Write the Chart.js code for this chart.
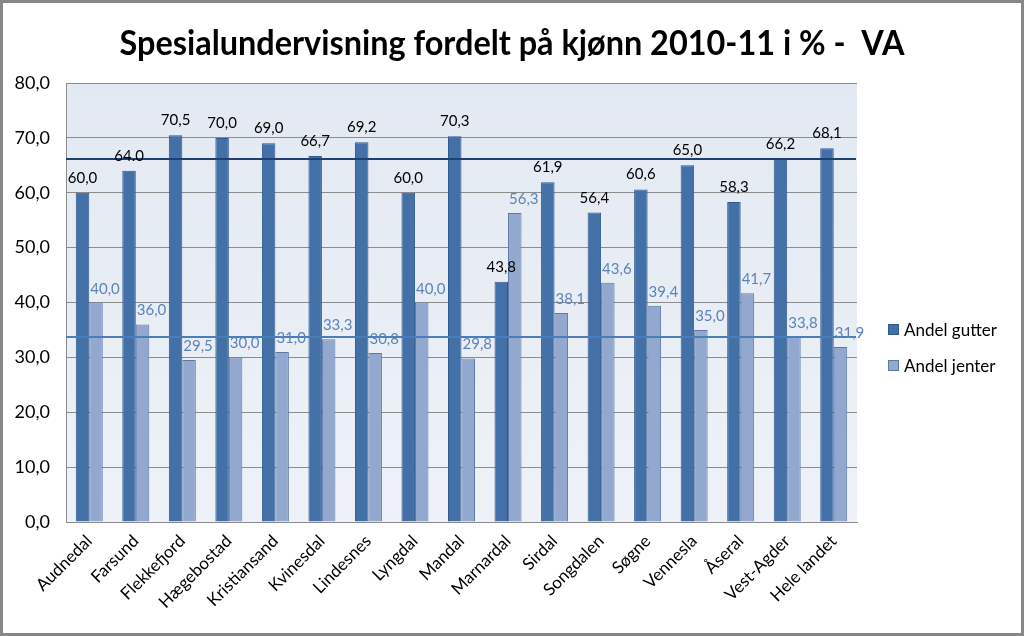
<!DOCTYPE html>
<html>
<head>
<meta charset="utf-8">
<script src="https://cdn.jsdelivr.net/npm/chart.js@4.4.1/dist/chart.umd.min.js"></script>
<style>
html, body { margin: 0; padding: 0; background: #fff; }
#wrap { width: 1024px; height: 636px; position: relative; }
</style>
</head>
<body>
<div id="wrap"><canvas id="graf" width="1024" height="636"></canvas></div>
<script>
// data lest av fra figuren
const kommuner = ["Audnedal", "Farsund", "Flekkefjord", "Hægebostad", "Kristiansand", "Kvinesdal",
  "Lindesnes", "Lyngdal", "Mandal", "Marnardal", "Sirdal", "Songdalen", "Søgne", "Vennesla",
  "Åseral", "Vest-Agder", "Hele landet"];
const andelGutter = [60.0, 64.0, 70.5, 70.0, 69.0, 66.7, 69.2, 60.0, 70.3, 43.8, 61.9, 56.4, 60.6, 65.0, 58.3, 66.2, 68.1];
const andelJenter = [40.0, 36.0, 29.5, 30.0, 31.0, 33.3, 30.8, 40.0, 29.8, 56.3, 38.1, 43.6, 39.4, 35.0, 41.7, 33.8, 31.9];
const gutterTekst = ["60,0", "64.0", "70,5", "70,0", "69,0", "66,7", "69,2", "60,0", "70,3", "43,8", "61,9", "56,4", "60,6", "65,0", "58,3", "66,2", "68,1"];
const jenterTekst = ["40,0", "36,0", "29,5", "30,0", "31,0", "33,3", "30,8", "40,0", "29,8", "56,3", "38,1", "43,6", "39,4", "35,0", "41,7", "33,8", "31,9"];
const snittGutter = 66.2;   // Vest-Agder gutter
const snittJenter = 33.8;   // Vest-Agder jenter
const tittel = "Spesialundervisning fordelt på kjønn 2010-11 i % -  VA";
const serieNavn = ["Andel gutter", "Andel jenter"];

const farger = {
  gutter: '#4470a8', gutterKant: '#30598e',
  jenter: '#93a8cf', jenterKant: '#5d78a6',
  gutterTekst: '#000000', jenterTekst: '#5b84bd'
};

let ctx = document.getElementById('graf').getContext('2d');

const bakgrunn = {
  id: 'bakgrunn',
  beforeDraw(chart) {
    let a = chart.chartArea, c = chart.ctx;
    c.save();
    c.fillStyle = '#ffffff';
    c.fillRect(0, 0, chart.width, chart.height);
    let g = c.createLinearGradient(0, a.top, 0, a.bottom);
    g.addColorStop(0, '#e3e9f2');
    g.addColorStop(1, '#eef2f8');
    c.fillStyle = g;
    c.fillRect(a.left, a.top, a.right - a.left, a.bottom - a.top);
    c.restore();
  }
};

const ekstra = {
  id: 'ekstra',
  afterDatasetsDraw(chart) {
    let c = chart.ctx, a = chart.chartArea, y = chart.scales.y;
    c.save();
    // snittlinjer
    [[snittGutter, '#1f3f73'], [snittJenter, '#4a7ebb']].forEach(([v, col]) => {
      let py = Math.round(y.getPixelForValue(v));
      c.strokeStyle = col;
      c.lineWidth = 2;
      c.beginPath();
      c.moveTo(a.left, py);
      c.lineTo(a.right - 1, py);
      c.stroke();
    });
    // verdietiketter
    c.font = '15px Lato';
    c.textAlign = 'center';
    c.textBaseline = 'alphabetic';
    chart.getDatasetMeta(0).data.forEach((bar, i) => {
      c.fillStyle = farger.gutterTekst;
      c.fillText(gutterTekst[i], bar.x, bar.y - 10);
    });
    chart.getDatasetMeta(1).data.forEach((bar, i) => {
      c.fillStyle = farger.jenterTekst;
      c.fillText(jenterTekst[i], bar.x + 9, bar.y - 9);
    });
    c.restore();
  },
  afterDraw(chart) {
    let c = chart.ctx;
    c.save();
    // tittel
    c.fillStyle = '#000';
    c.font = 'bold 34px Lato';
    c.textAlign = 'center';
    c.textBaseline = 'alphabetic';
    c.fillText(tittel, 512, 55, 785);
    // forklaring
    c.font = '17px Lato';
    c.textAlign = 'left';
    c.textBaseline = 'middle';
    [[farger.gutter, farger.gutterKant], [farger.jenter, farger.jenterKant]].forEach(([f, k], i) => {
      let ly = 330 + i * 36;
      c.fillStyle = f;
      c.fillRect(888, ly - 6, 11, 11);
      c.strokeStyle = k;
      c.lineWidth = 1;
      c.strokeRect(888.5, ly - 5.5, 10, 10);
      c.fillStyle = '#000';
      c.fillText(serieNavn[i], 904, ly + 1);
    });
    // ramme
    c.strokeStyle = '#888888';
    c.lineWidth = 3;
    c.strokeRect(1.5, 1.5, chart.width - 3, chart.height - 3);
    c.restore();
  }
};

let grafikk = new Chart(ctx, {
  type: 'bar',
  data: {
    labels: kommuner,
    datasets: [{
      label: serieNavn[0],
      data: andelGutter,
      backgroundColor: farger.gutter,
      borderColor: farger.gutterKant,
      borderWidth: 1,
      categoryPercentage: 0.58,
      barPercentage: 1.0
    }, {
      label: serieNavn[1],
      data: andelJenter,
      backgroundColor: farger.jenter,
      borderColor: farger.jenterKant,
      borderWidth: 1,
      categoryPercentage: 0.58,
      barPercentage: 1.0
    }]
  },
  options: {
    responsive: false,
    animation: false,
    devicePixelRatio: 1,
    layout: { padding: { top: 83, right: 167, bottom: 0, left: 4 } },
    plugins: {
      legend: { display: false },
      title: { display: false },
      tooltip: { enabled: false }
    },
    scales: {
      y: {
        min: 0,
        max: 80,
        afterFit(s) { s.width = 62; },
        ticks: {
          stepSize: 10,
          padding: 16,
          color: '#000',
          font: { family: 'Lato', size: 18 },
          callback: v => v.toFixed(1).replace('.', ',')
        },
        grid: { color: '#8c8c8c', drawTicks: false },
        border: { display: true, color: '#8c8c8c' }
      },
      x: {
        afterFit(s) { s.height = 114; },
        ticks: {
          minRotation: 45,
          maxRotation: 45,
          padding: 9,
          color: '#000',
          font: { family: 'Lato', size: 17 }
        },
        grid: { display: false, drawTicks: false },
        border: { display: true, color: '#8c8c8c' }
      }
    }
  },
  plugins: [bakgrunn, ekstra]
});
</script>
</body>
</html>
